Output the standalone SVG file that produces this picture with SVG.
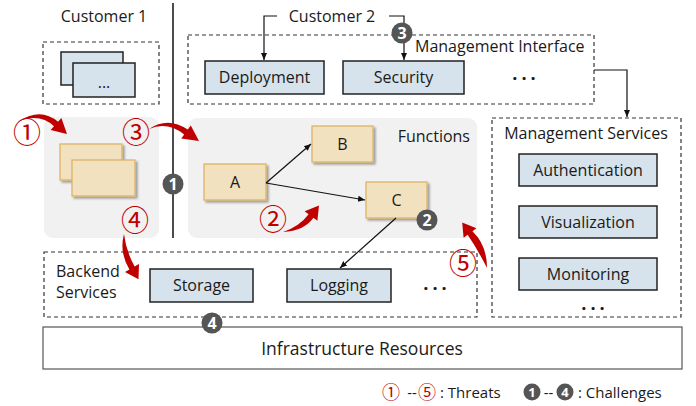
<svg xmlns="http://www.w3.org/2000/svg" width="696" height="406" viewBox="0 0 696 406">
<style>
text{font-family:"Open Sans","Liberation Sans",sans-serif;fill:#1a1a1a}
.t16{font-size:16px}
.mid{text-anchor:middle}
.dash{fill:none;stroke:#333;stroke-width:1.2;stroke-dasharray:4 3}
.blue{fill:#d6e2ec;stroke:#222;stroke-width:1.5}
.tan{fill:#f1e1be;stroke:#dcb466;stroke-width:1.3}
.area{fill:#f1f1f1}
.conn{fill:none;stroke:#111;stroke-width:1.2}
.red{fill:#c00000}
.thr{font-family:"Noto Sans CJK SC","DejaVu Sans",sans-serif;fill:#c00000;font-size:28px;text-anchor:middle}
.thr.sm{font-size:18px}
.ch circle{fill:#555}
.ch text{fill:#fff;font-family:"Open Sans","Liberation Sans",sans-serif;font-weight:bold;text-anchor:middle}
.dots{font-size:18px;font-weight:bold;letter-spacing:4px}
</style>
<defs>
<marker id="ah" markerWidth="8" markerHeight="8" refX="7" refY="4" orient="auto" markerUnits="userSpaceOnUse">
<path d="M0,1 L7,4 L0,7 Z" fill="#111"/>
</marker>
<filter id="sh" x="-20%" y="-20%" width="150%" height="160%">
<feDropShadow dx="2" dy="2" stdDeviation="1.2" flood-color="#000" flood-opacity="0.35"/>
</filter>
</defs>

<!-- background areas -->
<rect class="area" x="44" y="117" width="115" height="121" rx="9"/>
<rect class="area" x="188" y="118" width="289" height="120" rx="9"/>

<!-- divider line -->
<line x1="173" y1="3" x2="173" y2="238" stroke="#111" stroke-width="1.5"/>

<g id="customer1">
<text class="t16 mid" x="104" y="22">Customer 1</text>
<rect class="dash" x="43" y="42" width="116" height="62"/>
<rect class="blue" x="61" y="52" width="62" height="33"/>
<rect class="blue" x="73" y="63" width="62" height="34"/>
<text class="t16 mid" x="104" y="88">...</text>
</g>

<g id="customer1-functions">
<rect class="tan" x="60" y="144" width="62" height="36" filter="url(#sh)"/>
<rect class="tan" x="72" y="160" width="63" height="36" filter="url(#sh)"/>
</g>

<g id="customer2">
<text class="t16 mid" x="332" y="22">Customer 2</text>
</g>

<g id="management-interface">
<rect class="dash" x="188" y="35" width="406" height="69"/>
<text class="t16" x="415" y="52">Management Interface</text>
<text class="dots mid" x="526" y="80">...</text>
</g>
<g id="deployment">
<rect class="blue" x="205" y="61" width="119" height="33"/>
<text class="t16 mid" x="264.5" y="83">Deployment</text>
</g>
<g id="security">
<rect class="blue" x="343" y="61" width="121" height="33"/>
<text class="t16 mid" x="403.5" y="83">Security</text>
</g>

<g id="management-services">
<rect class="dash" x="492" y="118" width="189" height="199"/>
<text class="t16 mid" x="586" y="139">Management Services</text>
<text class="dots mid" x="595" y="310">...</text>
</g>
<g id="authentication">
<rect class="blue" x="519" y="154" width="138" height="32"/>
<text class="t16 mid" x="588" y="176">Authentication</text>
</g>
<g id="visualization">
<rect class="blue" x="519" y="206" width="138" height="32"/>
<text class="t16 mid" x="588" y="228">Visualization</text>
</g>
<g id="monitoring">
<rect class="blue" x="519" y="258" width="138" height="32"/>
<text class="t16 mid" x="588" y="280">Monitoring</text>
</g>

<g id="functions">
<text class="t16" x="470" y="142" text-anchor="end">Functions</text>
</g>
<g id="func-a">
<rect class="tan" x="204" y="164" width="62" height="36" filter="url(#sh)"/>
<text class="t16 mid" x="235" y="188">A</text>
</g>
<g id="func-b">
<rect class="tan" x="312" y="126" width="61" height="36" filter="url(#sh)"/>
<text class="t16 mid" x="342.5" y="150">B</text>
</g>
<g id="func-c">
<rect class="tan" x="366" y="182" width="61" height="36" filter="url(#sh)"/>
<text class="t16 mid" x="396.5" y="206">C</text>
</g>

<g id="backend-services">
<rect class="dash" x="44" y="252" width="433" height="65"/>
<text class="t16" x="56" y="277">Backend</text>
<text class="t16" x="56" y="298">Services</text>
<text class="dots mid" x="437" y="290">...</text>
</g>
<g id="storage">
<rect class="blue" x="150" y="269" width="103" height="33"/>
<text class="t16 mid" x="201.5" y="291">Storage</text>
</g>
<g id="logging">
<rect class="blue" x="287" y="269" width="104" height="33"/>
<text class="t16 mid" x="339" y="291">Logging</text>
</g>

<g id="infrastructure">
<rect x="43" y="327" width="639" height="42" fill="#fff" stroke="#555" stroke-width="1.2"/>
<text class="mid" x="362" y="355" font-size="17.5">Infrastructure Resources</text>
</g>

<g id="connectors">
<path class="conn" d="M277 16 H264 V60" marker-end="url(#ah)"/>
<path class="conn" d="M389 16 H404 V60" marker-end="url(#ah)"/>
<path class="conn" d="M594 70 H627 V117" marker-end="url(#ah)"/>
<path class="conn" d="M266 183 L311 144" marker-end="url(#ah)"/>
<path class="conn" d="M266 183 L365 200" marker-end="url(#ah)"/>
<path class="conn" d="M396 218 L340 268" marker-end="url(#ah)"/>
</g>

<g id="threats">
<path class="red" d="M19 121 Q41 107 58 121.8 L61.4 118.1 L67 134 L50.6 129.9 L54 126.2 Q40 113 19 121 Z"/>
<path class="red" d="M149 129 Q168 116 187.8 129.6 L190.8 125.6 L199 141 L181.2 138.4 L184.2 134.4 Q167 121 149 129 Z"/>
<path class="red" d="M283 232 Q304 231 313.4 217.8 L317.4 220.8 L319 205.5 L304.6 211.2 L308.6 214.2 Q300 226 283 232 Z"/>
<path class="red" d="M124 234 Q126 251 134.6 266.5 L139 264 L138.5 279.3 L125 272 L129.4 269.5 Q119 252 124 234 Z"/>
<path class="red" d="M487 268 Q487 245 472.4 231.2 L476.4 228.2 L462.2 222.6 L463.6 237.8 L467.6 234.8 Q478 250 487 268 Z"/>
<text class="thr" x="27" y="143">①</text>
<text class="thr" x="273" y="230">②</text>
<text class="thr" x="136" y="143">③</text>
<text class="thr" x="135" y="231">④</text>
<text class="thr" x="463" y="274">⑤</text>
</g>

<g id="challenges" class="ch">
<circle cx="173" cy="184" r="10.5"/><text x="173" y="190" font-size="16">1</text>
<circle cx="427" cy="220" r="10.5"/><text x="427" y="226" font-size="16">2</text>
<circle cx="402" cy="33" r="10.5"/><text x="402" y="39" font-size="16">3</text>
<circle cx="212" cy="323" r="10.5"/><text x="212" y="329" font-size="16">4</text>
</g>

<g id="legend">
<text class="thr sm" x="391" y="398.5">①</text>
<text x="412" y="398" font-size="15" class="mid">--</text>
<text class="thr sm" x="427" y="398.5">⑤</text>
<text x="440" y="398" font-size="15">: Threats</text>
<g class="ch">
<circle cx="532" cy="392" r="8.5"/><text x="532" y="397" font-size="13">1</text>
<circle cx="565" cy="392" r="8.5"/><text x="565" y="397" font-size="13">4</text>
</g>
<text x="548.5" y="398" font-size="15" class="mid">--</text>
<text x="578" y="398" font-size="15">: Challenges</text>
</g>
</svg>
